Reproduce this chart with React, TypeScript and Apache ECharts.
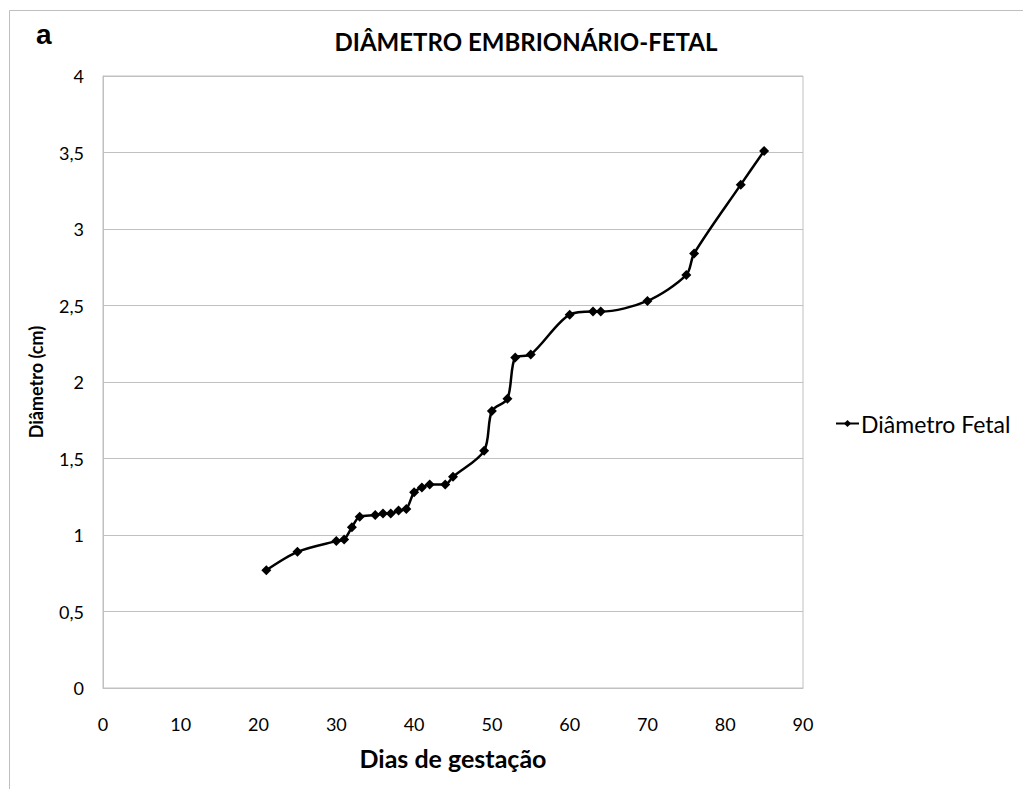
import React, { useEffect, useRef } from "react";
import * as echarts from "echarts";

const days = [21, 25, 30, 31, 32, 33, 35, 36, 37, 38, 39, 40, 41, 42, 44, 45, 49, 50, 52, 53, 55, 60, 63, 64, 70, 75, 76, 82, 85];
const diameters = [0.77, 0.89, 0.96, 0.97, 1.05, 1.12, 1.13, 1.14, 1.14, 1.16, 1.17, 1.28, 1.31, 1.33, 1.33, 1.38, 1.55, 1.81, 1.89, 2.16, 2.18, 2.44, 2.46, 2.46, 2.53, 2.7, 2.84, 3.29, 3.51];
const seriesName = "Diâmetro Fetal";
const chartTitle = "DIÂMETRO EMBRIONÁRIO-FETAL";
const xAxisName = "Dias de gestação";
const yAxisName = "Diâmetro (cm)";
const panelLetter = "a";

const FONT = "Lato, 'Open Sans', sans-serif";

export default function App() {
  const ref = useRef<HTMLDivElement>(null);
  useEffect(() => {
    if (!ref.current) return;
    const chart = echarts.init(ref.current, null, { renderer: "svg" });
    chart.setOption({
      animation: false,
      backgroundColor: "#ffffff",
      title: {
        text: chartTitle,
        left: 521,
        top: 24,
        textAlign: "center",
        textStyle: { fontFamily: FONT, fontSize: 24, fontWeight: "bold", color: "#000" },
      },
      graphic: [
        { type: "line", shape: { x1: 9.5, y1: 10.5, x2: 1023, y2: 10.5 }, style: { stroke: "#bfbfbf", lineWidth: 1 } },
        { type: "line", shape: { x1: 9.5, y1: 10.5, x2: 9.5, y2: 789 }, style: { stroke: "#bfbfbf", lineWidth: 1 } },
        {
          type: "text",
          style: {
            x: 36,
            y: 34,
            text: panelLetter,
            verticalAlign: "middle",
            font: "bold 28px 'Liberation Sans', Arial, sans-serif",
            fill: "#000",
          },
        },
      ],
      legend: {
        data: [seriesName],
        left: 830,
        top: 407,
        itemWidth: 23,
        itemHeight: 9,
        textStyle: { fontFamily: FONT, fontSize: 23, color: "#000", padding: [0, 0, 0, -3] },
      },
      grid: {
        left: 103,
        top: 76,
        right: 220,
        bottom: 101,
        show: true,
        borderColor: "#c0c0c0",
        borderWidth: 1,
      },
      xAxis: {
        type: "value",
        min: 0,
        max: 90,
        interval: 10,
        name: xAxisName,
        nameLocation: "middle",
        nameGap: 57,
        nameTextStyle: { fontFamily: FONT, fontSize: 25, fontWeight: "bold", color: "#000" },
        axisLine: { show: true, lineStyle: { color: "#c0c0c0" } },
        axisTick: { show: false },
        splitLine: { show: false },
        axisLabel: { fontFamily: FONT, fontSize: 18, color: "#000", margin: 27 },
      },
      yAxis: {
        type: "value",
        min: 0,
        max: 4,
        interval: 0.5,
        name: yAxisName,
        nameLocation: "middle",
        nameGap: 58,
        nameRotate: 90,
        nameTextStyle: { fontFamily: FONT, fontSize: 18, fontWeight: "bold", color: "#000" },
        axisLine: { show: true, lineStyle: { color: "#c0c0c0" } },
        axisTick: { show: false },
        splitLine: { show: true, lineStyle: { color: "#c0c0c0", width: 1 } },
        axisLabel: {
          fontFamily: FONT,
          fontSize: 18,
          color: "#000",
          margin: 19,
          formatter: (v: number) => String(v).replace(".", ","),
        },
      },
      series: [
        {
          name: seriesName,
          type: "line",
          data: days.map((d, i) => [d, diameters[i]]),
          smooth: 0.3,
          symbol: "diamond",
          symbolSize: 10,
          itemStyle: { color: "#000" },
          lineStyle: { color: "#000", width: 2.5 },
        },
      ],
    });
    return () => chart.dispose();
  }, []);
  return <div ref={ref} style={{ position: "fixed", left: 0, top: 0, width: 1023, height: 789 }} />;
}
